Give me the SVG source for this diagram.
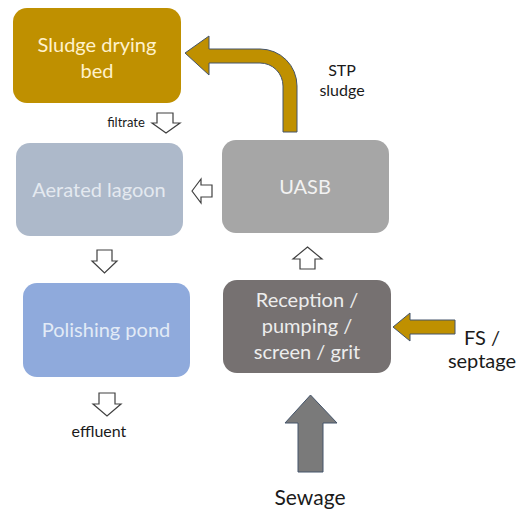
<svg xmlns="http://www.w3.org/2000/svg" width="520" height="513" viewBox="0 0 520 513">
<style>
.box{stroke:none}
.bt{font-family:Lato,"Open Sans","Liberation Sans",sans-serif;font-size:20px;text-anchor:middle}
.lbl{font-family:Lato,"Open Sans","Liberation Sans",sans-serif;fill:#1a1a1a;text-anchor:middle}
.hollow{fill:#ffffff;stroke:#404040;stroke-width:1.2;stroke-linejoin:miter}
.gold{fill:#BF9000;stroke:#44546A;stroke-width:1}
.grey{fill:#7A7A7A;stroke:#44546A;stroke-width:1}
</style>
<rect width="520" height="513" fill="#ffffff"/>
<g id="sludge-drying-bed">
<rect class="box" x="13" y="8" width="168" height="95" rx="14" fill="#BF9000"/>
<text class="bt" x="97" y="52" fill="#FFF2CC">Sludge drying</text>
<text class="bt" x="97" y="78" fill="#FFF2CC">bed</text>
</g>
<g id="aerated-lagoon">
<rect class="box" x="16" y="143" width="167" height="93" rx="14" fill="#ADB9CA"/>
<text class="bt" x="99" y="197" fill="#E4E9F0">Aerated lagoon</text>
</g>
<g id="uasb">
<rect class="box" x="222" y="140" width="167" height="93" rx="14" fill="#A6A6A6"/>
<text class="bt" x="305" y="194" fill="#F2F2F2">UASB</text>
</g>
<g id="polishing-pond">
<rect class="box" x="23" y="283" width="167" height="94" rx="14" fill="#8FAADC"/>
<text class="bt" x="106" y="337" fill="#E2EAF6">Polishing pond</text>
</g>
<g id="reception">
<rect class="box" x="223" y="280" width="168" height="93" rx="14" fill="#767171"/>
<text class="bt" x="307" y="307" fill="#EDEDED">Reception /</text>
<text class="bt" x="307" y="333" fill="#EDEDED">pumping /</text>
<text class="bt" x="307" y="359" fill="#EDEDED">screen / grit</text>
</g>
<g id="connectors">
<path class="gold" d="M185,53 L209,36 L209,49 L260,49 A37,37 0 0 1 297,86 L297,132 L283,132 L283,86 A23,23 0 0 0 260,63 L209,63 L209,75 Z"/>
<polygon class="hollow" points="157,113 173,113 173,123 180,123 166,133 152,123 157,123"/>
<polygon class="hollow" points="192,191 201,179 201,185 212,185 212,197 201,197 201,203"/>
<polygon class="hollow" points="97,250 112,250 112,261 117,261 104.5,273 92,261 97,261"/>
<polygon class="hollow" points="307.5,247 322,259 315,259 315,269 300,269 300,259 293,259"/>
<polygon class="hollow" points="99,393 115,393 115,404 121,404 107,416 93,404 99,404"/>
<polygon class="gold" points="393,327 410,313 410,320 455,320 455,334 410,334 410,341"/>
<polygon class="grey" points="310.5,395 337,423 323,423 323,472 298,472 298,423 285,423"/>
</g>
<g id="labels">
<text class="lbl" x="126" y="127" font-size="13">filtrate</text>
<text class="lbl" x="342" y="76" font-size="16">STP</text>
<text class="lbl" x="342" y="96" font-size="16">sludge</text>
<text class="lbl" x="99" y="437" font-size="16">effluent</text>
<text class="lbl" x="482" y="345" font-size="20">FS /</text>
<text class="lbl" x="482" y="368" font-size="20">septage</text>
<text class="lbl" x="310" y="505" font-size="21">Sewage</text>
</g>
</svg>
